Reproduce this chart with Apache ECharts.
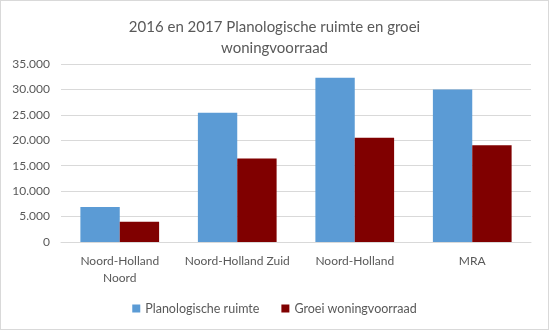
<!DOCTYPE html>
<html><head><meta charset="utf-8">
<script src="https://cdn.jsdelivr.net/npm/echarts@6/dist/echarts.min.js"></script>
<style>html,body{margin:0;padding:0;background:#fff}#c{width:549px;height:330px;box-sizing:border-box;border:1px solid #D9D9D9}</style>
</head><body><div id="c"></div>
<script>
const categories = ['Noord-Holland\nNoord', 'Noord-Holland Zuid', 'Noord-Holland', 'MRA'];
const planologischeRuimte = [6900, 25400, 32300, 30000];
const groeiWoningvoorraad = [4000, 16400, 20500, 19000];
const seriesNames = ['Planologische ruimte', 'Groei woningvoorraad'];
const FONT = 'Lato, "Open Sans", sans-serif';
const chart = echarts.init(document.getElementById('c'));
chart.setOption({
  animation: false,
  title: {
    text: '2016 en 2017 Planologische ruimte en groei\nwoningvoorraad',
    left: 'center', top: 11,
    textStyle: {fontFamily: FONT, fontSize: 15, fontWeight: 'normal', color: '#595959', lineHeight: 21}
  },
  legend: {
    bottom: 9, left: 'center', itemWidth: 8, itemHeight: 8, icon: 'rect', itemGap: 22,
    textStyle: {fontFamily: FONT, fontSize: 12.5, color: '#595959'},
    data: seriesNames
  },
  grid: {left: 60, right: 17, top: 63, bottom: 87},
  xAxis: {
    type: 'category', data: categories,
    axisLine: {lineStyle: {color: '#D9D9D9'}},
    axisTick: {show: false},
    axisLabel: {fontFamily: FONT, fontSize: 12, color: '#595959', margin: 11, lineHeight: 17, interval: 0}
  },
  yAxis: {
    type: 'value', min: 0, max: 35000, interval: 5000,
    axisLine: {show: false}, axisTick: {show: false},
    splitLine: {lineStyle: {color: '#D9D9D9', width: 1}},
    axisLabel: {fontFamily: FONT, fontSize: 12, color: '#595959', margin: 11,
      formatter: v => v === 0 ? '0' : String(v).replace(/\B(?=(\d{3})+(?!\d))/g, '.')}
  },
  series: [
    {name: seriesNames[0], type: 'bar', data: planologischeRuimte, itemStyle: {color: '#5B9BD5'}, barGap: '0%', barCategoryGap: '33%'},
    {name: seriesNames[1], type: 'bar', data: groeiWoningvoorraad, itemStyle: {color: '#800000'}, barGap: '0%', barCategoryGap: '33%'}
  ]
});
</script></body></html>
